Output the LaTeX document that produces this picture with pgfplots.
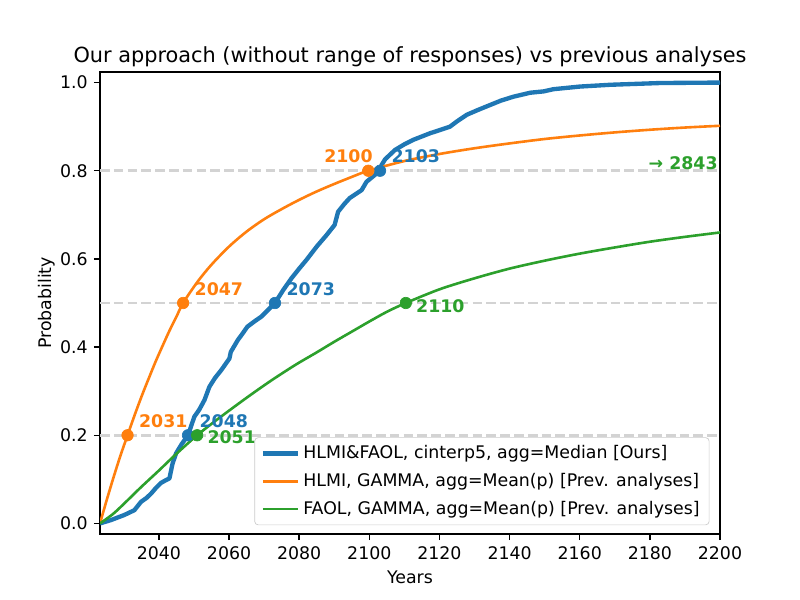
\documentclass[border=0pt]{standalone}
\usepackage{fontspec}
\setmainfont{DejaVu Sans}
\usepackage{pgfplots}
\pgfplotsset{compat=1.18}
\definecolor{cA}{HTML}{1F77B4}
\definecolor{cB}{HTML}{FF7F0E}
\definecolor{cC}{HTML}{2CA02C}
\definecolor{gridc}{HTML}{D3D3D3}
\definecolor{legc}{HTML}{CCCCCC}
\begin{document}
\fontsize{10bp}{12bp}\selectfont
\begin{tikzpicture}
\begin{axis}[
  at={(0,0)}, anchor=south west,
  scale only axis, width=4.96in, height=3.696in,
  xmin=2023.2, xmax=2200, ymin=-0.024, ymax=1.024,
  xtick={2040,2060,2080,2100,2120,2140,2160,2180,2200},
  ytick={0,0.2,0.4,0.6,0.8,1.0},
  tick align=outside, major tick length=3.5bp,
  every tick/.style={black, line width=0.8bp},
  axis line style={line width=0.8bp},
  xtick pos=bottom, ytick pos=left,
  /pgf/number format/assume math mode=true,
  tick label style={font=\fontsize{10bp}{12bp}\selectfont},
  xticklabel style={/pgf/number format/1000 sep={}},
  yticklabel style={/pgf/number format/.cd, fixed, fixed zerofill, precision=1},
  title={Our approach (without range of responses) vs previous analyses},
  title style={font=\fontsize{12bp}{14bp}\selectfont, at={(rel axis cs:0.5,1)}, anchor=south, inner sep=0pt, yshift=-3.3bp},
  xlabel={Years}, ylabel={Probability},
  label style={font=\fontsize{10bp}{12bp}\selectfont},
  ylabel style={xshift=0bp, yshift=-4bp},
  legend style={at={(rel axis cs:0.983,0.019)}, anchor=south east, draw=legc, rounded corners=2bp,
    fill=white, fill opacity=0.8, text opacity=1, font=\fontsize{10bp}{12bp}\selectfont,
    row sep=3bp, inner xsep=3.5bp, inner ysep=2.5bp},
  legend cell align=left,
  legend image code/.code={\draw[#1] (0bp,0bp) -- (20bp,0bp);},
  clip=true,
]
% blue (ours)
\addplot[cA, line width=2.5bp, line join=round] coordinates {
(2023.2,0.000)(2026.3,0.0075)(2030.1,0.019)(2033,0.030)(2034.9,0.049)(2036.5,0.058)(2037.8,0.068)
(2039.2,0.081)(2040.6,0.092)(2042.2,0.099)(2043.0,0.102)(2043.6,0.125)(2043.9,0.136)(2044.9,0.159)
(2046.5,0.180)(2048.3,0.200)(2050.1,0.242)(2051.5,0.258)(2053,0.28)(2054.4,0.31)(2056,0.330)
(2057.8,0.348)(2060.1,0.374)(2060.5,0.389)(2062.5,0.416)(2063.8,0.430)(2065.2,0.446)(2067.2,0.458)
(2069.2,0.469)(2071.2,0.485)(2073.1,0.500)(2075.5,0.530)(2077.8,0.556)(2080,0.578)(2082.1,0.598)
(2085,0.628)(2087.8,0.654)(2090.1,0.677)(2091.1,0.707)(2092.8,0.724)(2094.4,0.738)(2097.8,0.756)
(2099.2,0.775)(2101.5,0.790)(2103.05,0.800)(2103.5,0.813)(2104.5,0.826)(2107.3,0.847)(2110,0.860)
(2112.5,0.870)(2117.3,0.885)(2120,0.892)(2123,0.900)(2125,0.912)(2127.8,0.927)(2131,0.938)
(2134.4,0.949)(2137.5,0.959)(2141.1,0.968)(2145.9,0.977)(2149.7,0.980)(2152.5,0.985)(2160.1,0.991)
(2168.7,0.995)(2183,0.999)(2200,1.000)};
\addlegendentry{HLMI\&FAOL, cinterp5, agg=Median [Ours]}
\addplot[only marks, mark=*, mark size=3.3bp, cA, forget plot] coordinates {(2048.3,0.2)(2073.1,0.5)(2103.05,0.8)};
% reference lines
\addplot[gridc, line width=1.5bp, dash pattern=on 5.55bp off 2.4bp, forget plot] coordinates {(2023.2,0.2)(2200,0.2)};
\addplot[gridc, line width=1.5bp, dash pattern=on 5.55bp off 2.4bp, forget plot] coordinates {(2023.2,0.5)(2200,0.5)};
\addplot[gridc, line width=1.5bp, dash pattern=on 5.55bp off 2.4bp, forget plot] coordinates {(2023.2,0.8)(2200,0.8)};
% orange
\addplot[cB, line width=1.5bp, smooth] coordinates {
(2023.2,0.000)(2025,0.050)(2027,0.103)(2029,0.153)(2031.05,0.200)(2033,0.244)(2035,0.287)(2037,0.327)
(2039,0.366)(2041,0.402)(2043,0.437)(2045,0.469)(2046.9,0.500)(2051,0.548)(2055,0.587)(2060,0.628)
(2065,0.662)(2070,0.690)(2075,0.713)(2080,0.734)(2085,0.753)(2090,0.770)(2095,0.786)(2099.7,0.800)
(2110,0.822)(2120,0.838)(2130,0.851)(2140,0.862)(2150,0.872)(2160,0.880)(2170,0.887)(2180,0.893)
(2190,0.898)(2200,0.902)};
\addlegendentry{HLMI, GAMMA, agg=Mean(p) [Prev. analyses]}
% green
\addplot[cC, line width=1.5bp, smooth] coordinates {
(2023.2,0.000)(2027,0.022)(2031,0.052)(2035,0.083)(2040,0.120)(2045,0.158)(2050.9,0.200)(2057,0.238)
(2065,0.285)(2072,0.324)(2079,0.360)(2085,0.388)(2090,0.412)(2095,0.435)(2100,0.458)(2105,0.480)
(2110.4,0.500)(2120,0.531)(2130,0.556)(2140,0.578)(2150,0.596)(2160,0.612)(2170,0.626)(2180,0.639)
(2190,0.650)(2200,0.660)};
\addlegendentry{FAOL, GAMMA, agg=Mean(p) [Prev. analyses]}
\addplot[only marks, mark=*, mark size=3.3bp, cB, forget plot] coordinates {(2031.05,0.2)(2046.9,0.5)(2099.7,0.8)};
\addplot[only marks, mark=*, mark size=3.3bp, cC, forget plot] coordinates {(2050.9,0.2)(2110.4,0.5)};
% annotations
\node[cB, font=\bfseries, inner sep=0pt, anchor=base west, xshift=6.5bp, yshift=4.6bp] at (axis cs:2031.05,0.2) {2031};
\node[cB, font=\bfseries, inner sep=0pt, anchor=base west, xshift=6.5bp, yshift=4.6bp] at (axis cs:2046.9,0.5) {2047};
\node[cB, font=\bfseries, inner sep=0pt, anchor=base east, xshift=2.7bp, yshift=5bp] at (axis cs:2099.7,0.8) {2100};
\node[cA, font=\bfseries, inner sep=0pt, anchor=base west, xshift=6.5bp, yshift=4.6bp] at (axis cs:2048.3,0.2) {2048};
\node[cA, font=\bfseries, inner sep=0pt, anchor=base west, xshift=6.5bp, yshift=4.6bp] at (axis cs:2073.1,0.5) {2073};
\node[cA, font=\bfseries, inner sep=0pt, anchor=base west, xshift=6.5bp, yshift=4.6bp] at (axis cs:2103.05,0.8) {2103};
\node[cC, font=\bfseries, inner sep=0pt, anchor=base west, xshift=5.8bp, yshift=-4.8bp] at (axis cs:2050.9,0.2) {2051};
\node[cC, font=\bfseries, inner sep=0pt, anchor=base west, xshift=5.8bp, yshift=-5.2bp] at (axis cs:2110.4,0.5) {2110};
\node[cC, font=\bfseries, inner sep=0pt, anchor=base east, xshift=-1.2bp, yshift=0.8bp] at (axis cs:2200,0.8) {→ 2843};
\end{axis}
\pgfresetboundingbox
\path[use as bounding box] (-0.8in,-0.528in) rectangle (5.6in,4.272in);
\end{tikzpicture}
\end{document}
